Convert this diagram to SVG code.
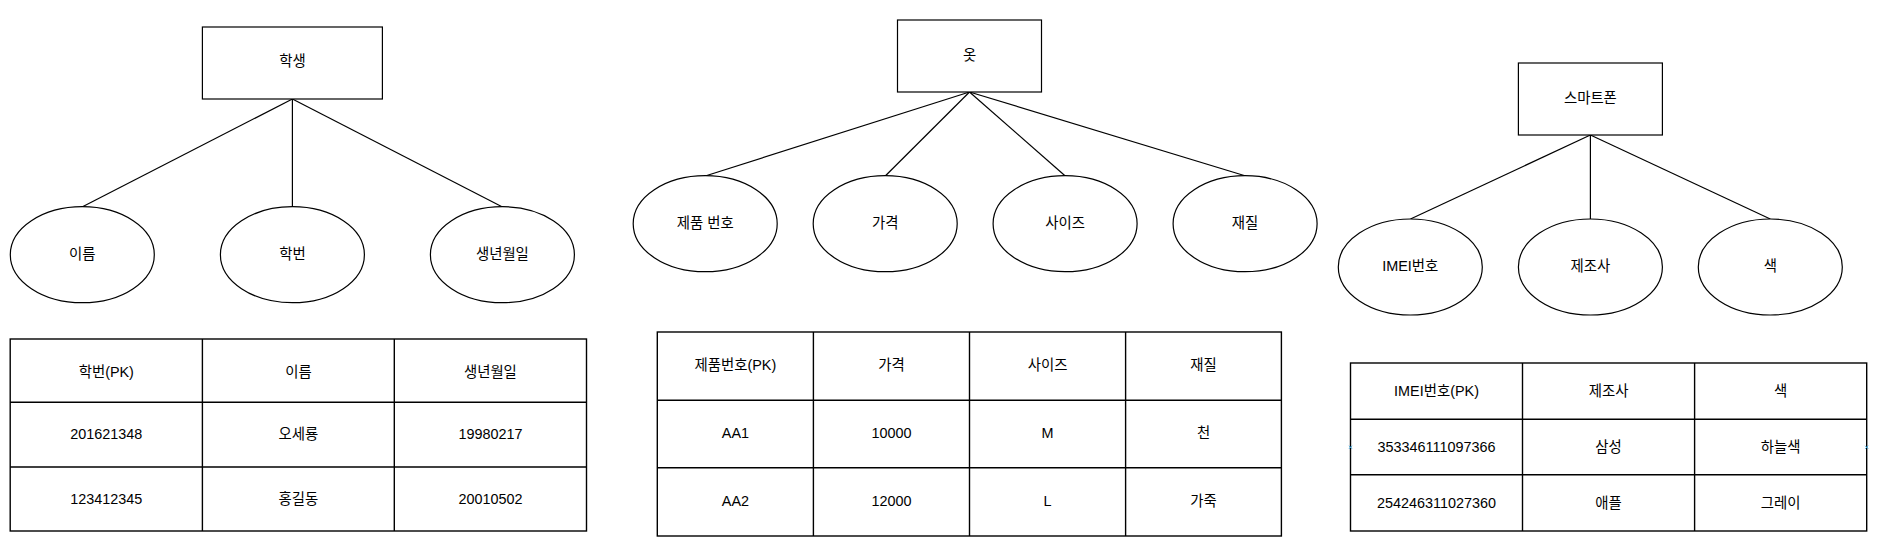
<svg xmlns="http://www.w3.org/2000/svg" width="1894" height="549" viewBox="0 0 1894 549">
<style>
.s{fill:#fff;stroke:#000;stroke-width:1.2}
.c{stroke:#000;stroke-width:1.2;fill:none}
.g{stroke:#000;stroke-width:1.4;fill:none}
text{font-family:"Liberation Sans","Noto Sans CJK KR",sans-serif;font-size:14.4px;fill:#000;text-anchor:middle}
.x{stroke:#3fa9e0;stroke-width:1;fill:none}
</style>
<rect width="1894" height="549" fill="#fff"/>
<g id="connectors">
<line class="c" x1="292.4" y1="99" x2="82.5" y2="206.7"/>
<line class="c" x1="292.4" y1="99" x2="292.4" y2="206.7"/>
<line class="c" x1="292.4" y1="99" x2="502" y2="206.7"/>
<line class="c" x1="969.5" y1="92" x2="706" y2="175.7"/>
<line class="c" x1="969.5" y1="92" x2="885.5" y2="175.7"/>
<line class="c" x1="969.5" y1="92" x2="1065" y2="175.7"/>
<line class="c" x1="969.5" y1="92" x2="1245" y2="175.7"/>
<line class="c" x1="1590.4" y1="135" x2="1410.5" y2="219"/>
<line class="c" x1="1590.4" y1="135" x2="1590.4" y2="219"/>
<line class="c" x1="1590.4" y1="135" x2="1770.3" y2="219"/>
</g>
<g id="student"><rect class="s" x="202.4" y="27" width="180" height="72"/><text x="292.4" y="66">학생</text></g>
<g id="attr-name"><ellipse class="s" cx="82.3" cy="254.7" rx="72" ry="48"/><text x="82.3" y="258.5">이름</text></g>
<g id="attr-stuno"><ellipse class="s" cx="292.4" cy="254.7" rx="72" ry="48"/><text x="292.4" y="258.5">학번</text></g>
<g id="attr-birth"><ellipse class="s" cx="502.4" cy="254.7" rx="72" ry="48"/><text x="502.4" y="258.5">생년월일</text></g>

<g id="clothes"><rect class="s" x="897.5" y="20" width="144" height="72"/><text x="969.5" y="60">옷</text></g>
<g id="attr-prodno"><ellipse class="s" cx="705.2" cy="223.7" rx="72" ry="48"/><text x="705.2" y="227.5">제품 번호</text></g>
<g id="attr-price"><ellipse class="s" cx="885.2" cy="223.7" rx="72" ry="48"/><text x="885.2" y="227.5">가격</text></g>
<g id="attr-size"><ellipse class="s" cx="1065.1" cy="223.7" rx="72" ry="48"/><text x="1065.1" y="227.5">사이즈</text></g>
<g id="attr-material"><ellipse class="s" cx="1245.1" cy="223.7" rx="72" ry="48"/><text x="1245.1" y="227.5">재질</text></g>

<g id="smartphone"><rect class="s" x="1518.4" y="63" width="144" height="72"/><text x="1590.4" y="102.5">스마트폰</text></g>
<g id="attr-imei"><ellipse class="s" cx="1410.3" cy="267" rx="72" ry="48"/><text x="1410.3" y="271">IMEI번호</text></g>
<g id="attr-maker"><ellipse class="s" cx="1590.4" cy="267" rx="72" ry="48"/><text x="1590.4" y="271">제조사</text></g>
<g id="attr-color"><ellipse class="s" cx="1770.3" cy="267" rx="72" ry="48"/><text x="1770.3" y="271">색</text></g>

<g id="table-student">
<rect class="g" x="10.2" y="339" width="576.3" height="192"/>
<line class="g" x1="202.4" y1="339" x2="202.4" y2="531"/>
<line class="g" x1="394.3" y1="339" x2="394.3" y2="531"/>
<line class="g" x1="10.2" y1="402.3" x2="586.5" y2="402.3"/>
<line class="g" x1="10.2" y1="467" x2="586.5" y2="467"/>
<text x="106.3" y="376.7">학번(PK)</text><text x="298.4" y="376.7">이름</text><text x="490.4" y="376.7">생년월일</text>
<text x="106.3" y="439.3">201621348</text><text x="298.4" y="439.3">오세룡</text><text x="490.4" y="439.3">19980217</text>
<text x="106.3" y="504.3">123412345</text><text x="298.4" y="504.3">홍길동</text><text x="490.4" y="504.3">20010502</text>
</g>

<g id="table-clothes">
<rect class="g" x="657.3" y="332" width="624.1" height="204"/>
<line class="g" x1="813.4" y1="332" x2="813.4" y2="536"/>
<line class="g" x1="969.5" y1="332" x2="969.5" y2="536"/>
<line class="g" x1="1125.6" y1="332" x2="1125.6" y2="536"/>
<line class="g" x1="657.3" y1="400.3" x2="1281.4" y2="400.3"/>
<line class="g" x1="657.3" y1="467.7" x2="1281.4" y2="467.7"/>
<text x="735.4" y="370">제품번호(PK)</text><text x="891.5" y="370">가격</text><text x="1047.6" y="370">사이즈</text><text x="1203.6" y="370">재질</text>
<text x="735.4" y="438.3">AA1</text><text x="891.5" y="438.3">10000</text><text x="1047.6" y="438.3">M</text><text x="1203.6" y="438.3">천</text>
<text x="735.4" y="506">AA2</text><text x="891.5" y="506">12000</text><text x="1047.6" y="506">L</text><text x="1203.6" y="506">가죽</text>
</g>

<g id="table-smartphone">
<rect class="g" x="1350.5" y="363" width="516.2" height="168"/>
<line class="g" x1="1522.5" y1="363" x2="1522.5" y2="531"/>
<line class="g" x1="1694.6" y1="363" x2="1694.6" y2="531"/>
<line class="g" x1="1350.5" y1="419.3" x2="1866.7" y2="419.3"/>
<line class="g" x1="1350.5" y1="474.7" x2="1866.7" y2="474.7"/>
<text x="1436.5" y="395.7">IMEI번호(PK)</text><text x="1608.6" y="395.7">제조사</text><text x="1780.7" y="395.7">색</text>
<text x="1436.5" y="451.7">353346111097366</text><text x="1608.6" y="451.7">삼성</text><text x="1780.7" y="451.7">하늘색</text>
<text x="1436.5" y="508">254246311027360</text><text x="1608.6" y="508">애플</text><text x="1780.7" y="508">그레이</text>
<path class="x" d="M1349 445.8l3 3M1352 445.8l-3 3M1865.2 445.8l3 3M1868.2 445.8l-3 3"/>
</g>
</svg>
